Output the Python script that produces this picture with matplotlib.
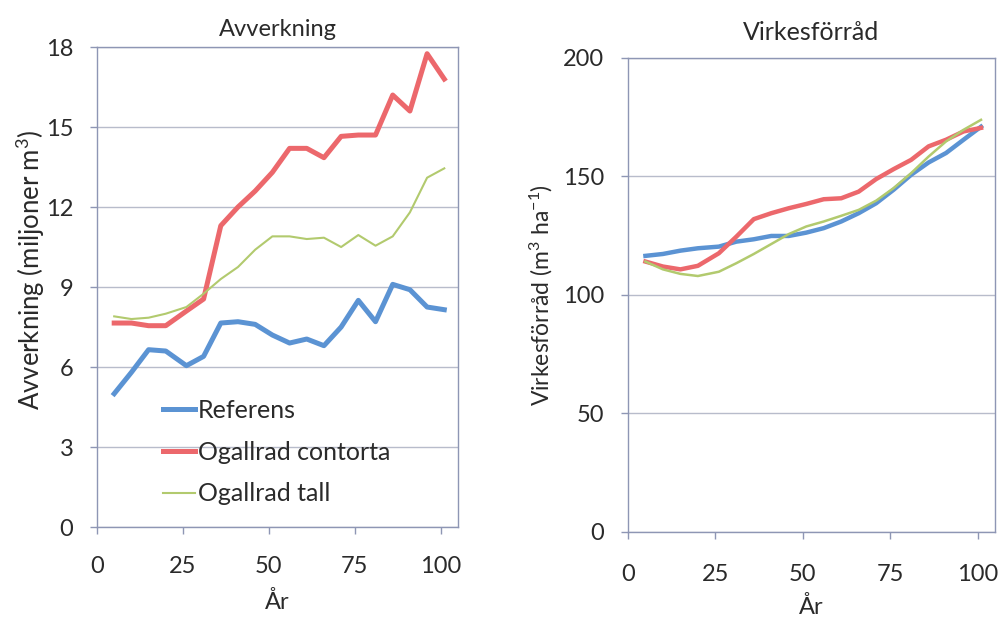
import matplotlib
matplotlib.use("Agg")
import matplotlib.pyplot as plt

plt.rcParams['font.family'] = ['Lato', 'DejaVu Sans']
plt.rcParams['mathtext.default'] = 'regular'

years = [5, 10, 15, 20, 26, 31, 36, 41, 46, 51, 56, 61, 66, 71, 76, 81, 86, 91, 96, 101]

# Avverkning (miljoner m3)
avv_ref = [5.0, 5.8, 6.65, 6.6, 6.05, 6.4, 7.65, 7.7, 7.6, 7.2, 6.9, 7.05, 6.8, 7.5, 8.5, 7.7, 9.1, 8.9, 8.25, 8.15]
avv_cont = [7.65, 7.65, 7.55, 7.55, 8.1, 8.55, 11.3, 12.0, 12.6, 13.3, 14.2, 14.2, 13.85, 14.65, 14.7, 14.7, 16.2, 15.6, 17.75, 16.8]
avv_tall = [7.9, 7.8, 7.85, 8.0, 8.25, 8.75, 9.3, 9.75, 10.4, 10.9, 10.9, 10.8, 10.85, 10.5, 10.95, 10.55, 10.9, 11.8, 13.1, 13.45]

# Virkesförråd (m3 ha-1)
vf_ref = [116.5, 117.3, 118.7, 119.7, 120.4, 122.5, 123.5, 124.9, 124.9, 126.3, 128.2, 131.0, 134.5, 138.7, 144.4, 150.7, 155.9, 159.9, 165.5, 171.0]
vf_cont = [114.1, 112.0, 110.8, 112.3, 117.6, 124.6, 132.0, 134.5, 136.6, 138.4, 140.4, 140.8, 143.6, 148.9, 153.1, 157.0, 162.7, 165.5, 169.0, 170.5]
vf_tall = [114.1, 110.8, 108.9, 108.0, 109.8, 113.4, 117.3, 121.5, 125.7, 128.9, 131.0, 133.4, 135.9, 139.8, 145.1, 151.4, 158.4, 164.8, 169.7, 173.9]

series_names = ['Referens', 'Ogallrad contorta', 'Ogallrad tall']
colors = ['#5B93D3', '#EC686C', '#B2CA6E']
widths_left = [3.6, 3.6, 1.5]
widths_right = [3.2, 3.2, 1.8]

x_ticks = [0, 25, 50, 75, 100]
left_yticks = [0, 3, 6, 9, 12, 15, 18]
right_yticks = [0, 50, 100, 150, 200]

frame_col = '#8E96B4'
grid_col = '#B8BCCB'
text_col = '#2A2A2A'

fig = plt.figure(figsize=(9.99, 6.18), dpi=100)
ax1 = fig.add_axes([0.0971, 0.1472, 0.3614, 0.7767])
ax2 = fig.add_axes([0.6286, 0.1392, 0.3674, 0.7670])

def style(ax, yticks, ylim, xpad):
    ax.set_xlim(0, 105)
    ax.set_ylim(*ylim)
    ax.set_xticks(x_ticks)
    ax.set_yticks(yticks)
    ax.yaxis.grid(True, color=grid_col, linewidth=1.0)
    ax.set_axisbelow(True)
    for s in ax.spines.values():
        s.set_color(frame_col)
        s.set_linewidth(1.0)
    ax.tick_params(axis='both', colors=frame_col, labelcolor=text_col,
                   labelsize=17, length=5, direction='out', width=1.0)
    ax.tick_params(axis='x', pad=xpad)
    ax.tick_params(axis='y', pad=12)

for vals, c, w, n in zip([avv_ref, avv_cont, avv_tall], colors, widths_left, series_names):
    ax1.plot(years, vals, color=c, linewidth=w, label=n, solid_joinstyle='round')
style(ax1, left_yticks, (0, 18), 16)
ax1.set_title('Avverkning', fontsize=17, color=text_col, pad=8)
ax1.set_xlabel('År', fontsize=17, color=text_col, labelpad=10)
ax1.set_ylabel('Avverkning (miljoner m$^3$)', fontsize=18.5, color=text_col)
ax1.yaxis.set_label_coords(-0.139, 0.535)
leg = ax1.legend(loc='center left', bbox_to_anchor=(0.183, 0.156), frameon=False,
                 fontsize=18, handlelength=1.28, handletextpad=0.1, labelspacing=0.75,
                 borderaxespad=0, borderpad=0)
for t in leg.get_texts():
    t.set_color(text_col)

for vals, c, w in zip([vf_ref, vf_cont, vf_tall], colors, widths_right):
    ax2.plot(years, vals, color=c, linewidth=w, solid_joinstyle='round')
style(ax2, right_yticks, (0, 200), 18)
ax2.set_title('Virkesförråd', fontsize=18, color=text_col, pad=13)
ax2.set_xlabel('År', fontsize=17, color=text_col, labelpad=8)
ax2.set_ylabel('Virkesförråd (m$^3$ ha$^{-1}$)', fontsize=16.5, color=text_col)
ax2.yaxis.set_label_coords(-0.199, 0.5)

fig.savefig('out.png', dpi=100)
